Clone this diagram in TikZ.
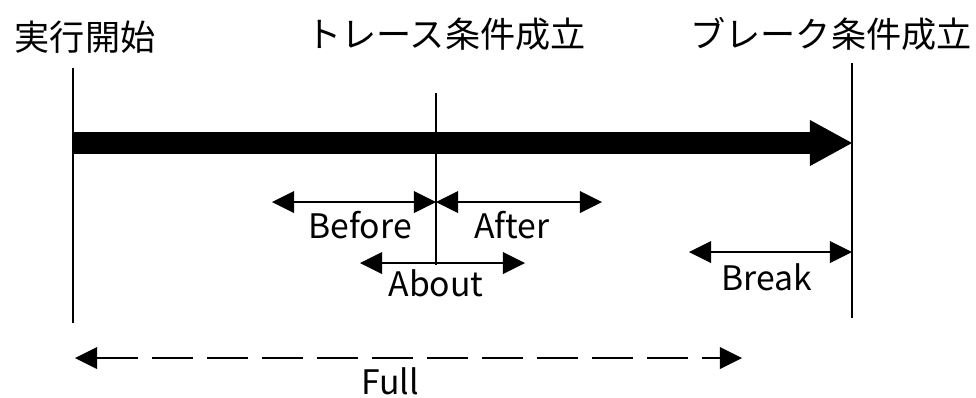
\documentclass[tikz,border=0pt]{standalone}
\usepackage{fontspec}
\setmainfont{Noto Sans CJK JP}
\usetikzlibrary{arrows.meta}

\tikzset{
  tip/.style={Triangle[length=0.55cm, width=0.55cm, line width=0pt]},
  span/.style={{Triangle[length=0.55cm, width=0.55cm, line width=0pt]}-{Triangle[length=0.55cm, width=0.55cm, line width=0pt]}},
  title/.style={font=\fontsize{25}{30}\selectfont, inner sep=0pt},
  lbl/.style={font=\fontsize{24}{28}\selectfont, inner sep=0pt}
}

\begin{document}
\begin{tikzpicture}[x=0.025cm, y=-0.025cm, line width=1.4pt]
        \useasboundingbox (0,0) rectangle (976,397);
        % titles
        \node[title] (start) at (85,37) {実行開始};
        \node[title] (trace) at (446,34) {トレース条件成立};
        \node[title] (brk) at (831,34) {ブレーク条件成立};
        % vertical markers
        \coordinate (startTop) at (73,68);
        \coordinate (startBot) at (73,323);
        \coordinate (traceTop) at (436,93);
        \coordinate (traceBot) at (436,265);
        \coordinate (brkTop) at (852,63);
        \coordinate (brkBot) at (852,318);
        \draw (startTop) -- (startBot);
        \draw (traceTop) -- (traceBot);
        \draw (brkTop) -- (brkBot);
        % execution
        \coordinate (runA) at (73,143);
        \coordinate (runB) at (852,143);
        \draw[line width=0.55cm, -{Triangle[length=1.05cm, width=1.15cm, line width=0pt]}] (runA) -- (runB);
        % ranges
        \coordinate (befA) at (272,202);
        \coordinate (befB) at (436,202);
        \coordinate (aftB) at (602,202);
        \coordinate (aboA) at (360,263);
        \coordinate (aboB) at (525,263);
        \coordinate (brkA) at (689,252);
        \coordinate (brkB) at (852,252);
        \coordinate (fulA) at (75,358);
        \coordinate (fulB) at (742,358);
        \draw[span] (befA) -- (befB);
        \draw[span] (befB) -- (aftB);
        \draw[span] (aboA) -- (aboB);
        \draw[span] (brkA) -- (brkB);
        \draw[span, dash pattern=on 1.025cm off 0.35cm] (fulA) -- (fulB);
        \node[lbl] (before) at (360,225) {Before};
        \node[lbl] (after) at (512,225) {After};
        \node[lbl] (about) at (436,283) {About};
        \node[lbl] (break) at (767,277) {Break};
        \node[lbl] (full) at (390,381) {Full};
\end{tikzpicture}
\end{document}
